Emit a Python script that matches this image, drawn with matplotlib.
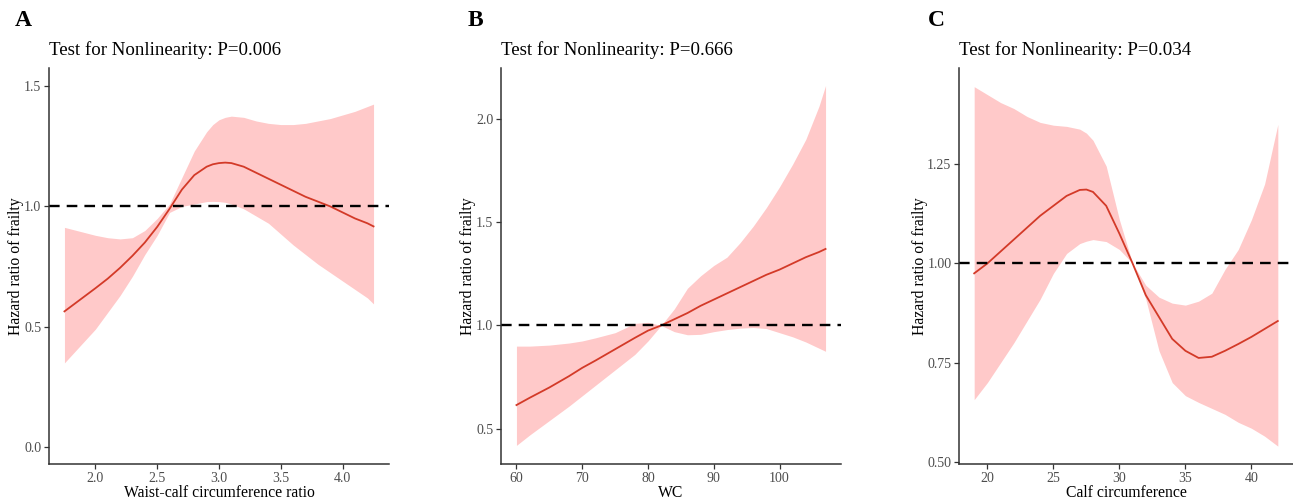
import numpy as np
import matplotlib
matplotlib.use("Agg")
import matplotlib.pyplot as plt

plt.rcParams['font.family'] = ['Liberation Serif', 'DejaVu Serif']

# panel A: waist-calf circumference ratio
a_x = [1.75, 2.0, 2.1, 2.2, 2.3, 2.4, 2.5, 2.6, 2.7, 2.8, 2.9, 2.95, 3.0, 3.05, 3.1, 3.2, 3.3, 3.4, 3.5,
       3.6, 3.7, 3.8, 3.9, 4.0, 4.1, 4.2, 4.25]
a_hr = [0.564, 0.66, 0.70, 0.745, 0.795, 0.85, 0.915, 0.99, 1.07, 1.13, 1.165, 1.175, 1.18, 1.182, 1.18, 1.165,
        1.14, 1.115, 1.09, 1.065, 1.04, 1.02, 1.0, 0.975, 0.95, 0.93, 0.917]
a_lo = [0.35, 0.49, 0.56, 0.63, 0.71, 0.80, 0.88, 0.975, 1.0, 1.01, 1.02, 1.021, 1.02, 1.017, 1.01, 0.99,
        0.96, 0.93, 0.885, 0.84, 0.80, 0.76, 0.725, 0.69, 0.655, 0.62, 0.595]
a_hi = [0.913, 0.88, 0.87, 0.865, 0.87, 0.90, 0.95, 1.01, 1.12, 1.23, 1.31, 1.34, 1.36, 1.37, 1.375, 1.37,
        1.355, 1.345, 1.34, 1.34, 1.345, 1.355, 1.365, 1.38, 1.395, 1.415, 1.425]

# panel B: WC
b_x = [60, 62, 65, 68, 70, 72, 75, 78, 80, 82, 84, 86, 88, 90, 92, 94, 96, 98, 100, 102, 104, 106, 107]
b_hr = [0.615, 0.65, 0.70, 0.755, 0.795, 0.83, 0.885, 0.94, 0.975, 1.0, 1.03, 1.06, 1.095, 1.125,
        1.155, 1.185, 1.215, 1.245, 1.27, 1.30, 1.33, 1.355, 1.37]
b_lo = [0.42, 0.47, 0.54, 0.61, 0.66, 0.71, 0.785, 0.86, 0.925, 1.0, 0.97, 0.955, 0.957, 0.97,
        0.98, 0.987, 0.99, 0.985, 0.965, 0.945, 0.92, 0.89, 0.875]
b_hi = [0.90, 0.90, 0.905, 0.915, 0.925, 0.94, 0.965, 1.01, 1.015, 1.0, 1.08, 1.18, 1.24, 1.29,
        1.33, 1.40, 1.48, 1.57, 1.67, 1.78, 1.90, 2.06, 2.16]

# panel C: calf circumference
c_x = [19, 20, 21, 22, 23, 24, 25, 26, 27, 27.5, 28, 29, 30, 31, 32, 33, 34, 35, 36, 37, 38, 39, 40, 41, 42]
c_hr = [0.975, 1.0, 1.03, 1.06, 1.09, 1.12, 1.145, 1.17, 1.185, 1.186, 1.18, 1.145, 1.075, 1.0, 0.92,
        0.865, 0.81, 0.78, 0.762, 0.765, 0.78, 0.797, 0.815, 0.835, 0.855]
c_lo = [0.657, 0.70, 0.75, 0.80, 0.855, 0.91, 0.975, 1.025, 1.05, 1.056, 1.06, 1.055, 1.035, 1.0, 0.91,
        0.78, 0.70, 0.667, 0.65, 0.635, 0.62, 0.60, 0.585, 0.565, 0.54]
c_hi = [1.445, 1.425, 1.405, 1.39, 1.37, 1.355, 1.348, 1.345, 1.338, 1.328, 1.31, 1.245, 1.11, 1.0, 0.945,
        0.915, 0.90, 0.895, 0.905, 0.925, 0.985, 1.035, 1.11, 1.2, 1.35]

panels = [
    ('A', 'Test for Nonlinearity: P=0.006', 'Waist-calf circumference ratio',
     a_x, a_hr, a_lo, a_hi, [2.0, 2.5, 3.0, 3.5, 4.0], [0.0, 0.5, 1.0, 1.5], '%.1f',
     (1.625, 4.375), (-0.07, 1.575)),
    ('B', 'Test for Nonlinearity: P=0.666', 'WC',
     b_x, b_hr, b_lo, b_hi, [60, 70, 80, 90, 100], [0.5, 1.0, 1.5, 2.0], '%.1f',
     (57.65, 109.35), (0.33, 2.245)),
    ('C', 'Test for Nonlinearity: P=0.034', 'Calf circumference',
     c_x, c_hr, c_lo, c_hi, [20, 25, 30, 35, 40], [0.50, 0.75, 1.00, 1.25], '%.2f',
     (17.85, 43.15), (0.495, 1.492)),
]

W, H = 1293, 500
fig = plt.figure(figsize=(W / 100, H / 100), dpi=100)

boxes = [(49, 389), (501, 841), (959, 1293)]
ylab_x = [24, 476, 928]
letter_x = [15, 468, 928]
top, bottom = 68, 464

for i, (letter, title, xlabel, x, hr, lo, hi, xt, yt, fmt, xl, yl) in enumerate(panels):
    l, r = boxes[i]
    ax = fig.add_axes([l / W, 1 - bottom / H, (r - l) / W, (bottom - top) / H])
    ax.fill_between(x, lo, hi, color='#ffc9c9', lw=0)
    ax.plot(x, hr, color='#d33a28', lw=1.3)
    ax.axhline(1.0, color='black', lw=1.7, dashes=(4.5, 3))
    ax.set_xlim(*xl)
    ax.set_ylim(*yl)
    ax.set_xticks(xt)
    ax.set_yticks(yt)
    ax.set_yticklabels([fmt % v for v in yt])
    ax.set_xticklabels([str(v) for v in xt])
    for s in ['top', 'right']:
        ax.spines[s].set_visible(False)
    for s in ['left', 'bottom']:
        ax.spines[s].set_color('#333333')
        ax.spines[s].set_linewidth(1.1)
    ax.tick_params(length=3.5, width=0.9, color='#333333', labelsize=10, labelcolor='#4d4d4d', pad=2)
    ax.set_xlabel(xlabel, fontsize=11.3, labelpad=0.5)
    ax.set_ylabel('Hazard ratio of frailty', fontsize=11.3)
    ax.yaxis.set_label_coords((ylab_x[i] - l) / (r - l), 0.5)
    fig.text(l / W, 1 - 50 / H, title, fontsize=13.6, ha='left', va='center')
    fig.text(letter_x[i] / W, 1 - 20 / H, letter, fontsize=17, fontweight='bold', ha='left', va='center')

fig.savefig('out.png', dpi=100)
